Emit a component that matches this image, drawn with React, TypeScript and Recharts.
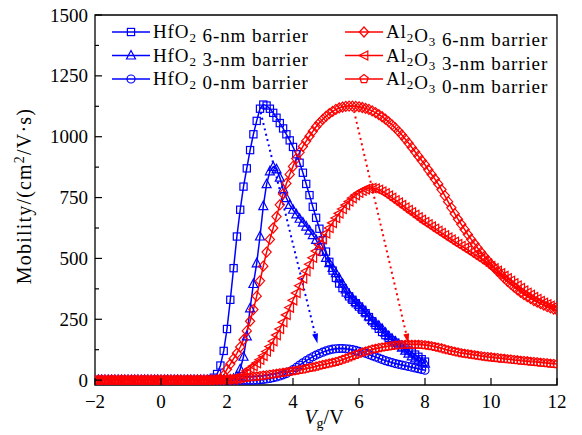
import React from "react";
import { LineChart, Line, XAxis, YAxis, ReferenceArea, ReferenceLine } from "recharts";

// gate voltage sweep, 0.1 V step
const VG = [
  -2, -1.9, -1.8, -1.7, -1.6, -1.5, -1.4, -1.3, -1.2, -1.1,
  -1, -0.9, -0.8, -0.7, -0.6, -0.5, -0.4, -0.3, -0.2, -0.1,
  0, 0.1, 0.2, 0.3, 0.4, 0.5, 0.6, 0.7, 0.8, 0.9,
  1, 1.1, 1.2, 1.3, 1.4, 1.5, 1.6, 1.7, 1.8, 1.9,
  2, 2.1, 2.2, 2.3, 2.4, 2.5, 2.6, 2.7, 2.8, 2.9,
  3, 3.1, 3.2, 3.3, 3.4, 3.5, 3.6, 3.7, 3.8, 3.9,
  4, 4.1, 4.2, 4.3, 4.4, 4.5, 4.6, 4.7, 4.8, 4.9,
  5, 5.1, 5.2, 5.3, 5.4, 5.5, 5.6, 5.7, 5.8, 5.9,
  6, 6.1, 6.2, 6.3, 6.4, 6.5, 6.6, 6.7, 6.8, 6.9,
  7, 7.1, 7.2, 7.3, 7.4, 7.5, 7.6, 7.7, 7.8, 7.9,
  8, 8.1, 8.2, 8.3, 8.4, 8.5, 8.6, 8.7, 8.8, 8.9,
  9, 9.1, 9.2, 9.3, 9.4, 9.5, 9.6, 9.7, 9.8, 9.9,
  10, 10.1, 10.2, 10.3, 10.4, 10.5, 10.6, 10.7, 10.8, 10.9,
  11, 11.1, 11.2, 11.3, 11.4, 11.5, 11.6, 11.7, 11.8, 11.9,
  12,
];

// HfO2 series run from -2 to 8 V
const HFO2_6NM = [
  0, 0, 0, 0, 0, 0, 0, 0, 0, 0,
  0, 0, 0, 0, 0, 0, 0, 0, 0, 0,
  0, 0, 0, 0, 0, 0, 0, 0, 0, 0,
  0, 0, 0, 0, 1, 4, 10, 25, 60, 120,
  210, 330, 460, 590, 700, 795, 870, 945, 1010, 1065,
  1115, 1132, 1128, 1115, 1098, 1078, 1056, 1034, 1010, 985,
  958, 928, 893, 852, 806, 760, 712, 667, 622, 575,
  528, 486, 450, 420, 397, 378, 360, 344, 330, 316,
  302, 289, 275, 259, 242, 226, 211, 198, 185, 173,
  163, 154, 146, 138, 130, 122, 114, 105, 96, 86,
  76,
];
const HFO2_3NM = [
  0, 0, 0, 0, 0, 0, 0, 0, 0, 0,
  0, 0, 0, 0, 0, 0, 0, 0, 0, 0,
  0, 0, 0, 0, 0, 0, 0, 0, 0, 0,
  0, 0, 0, 0, 0, 0, 0, 0, 0, 0,
  0, 2, 6, 15, 45, 96, 180, 295, 395, 480,
  590, 715, 805, 858, 876, 866, 832, 785, 748, 720,
  700, 681, 663, 647, 631, 614, 596, 576, 552, 527,
  502, 481, 461, 440, 418, 396, 373, 353, 336, 321,
  309, 295, 279, 262, 247, 235, 223, 211, 195, 181,
  170, 159, 146, 133, 121, 109, 98, 89, 81, 74,
  68,
];
const HFO2_0NM = [
  0, 0, 0, 0, 0, 0, 0, 0, 0, 0,
  0, 0, 0, 0, 0, 0, 0, 0, 0, 0,
  0, 0, 0, 0, 0, 0, 0, 0, 0, 0,
  0, 0, 0, 0, 0, 0, 0, 0, 0, 0,
  0, 0, 0, 0, 0, 0, 0, 0, 0, 1,
  2, 3, 5, 7, 10, 13, 17, 22, 27, 35,
  43, 52, 62, 71, 80, 88, 96, 103, 109, 115,
  120, 124, 127, 129, 130, 130, 129, 127, 125, 122,
  118, 114, 110, 105, 100, 95, 90, 85, 80, 76,
  72, 68, 65, 62, 59, 56, 53, 50, 47, 44,
  41,
];

// Al2O3 series run from -2 to 12 V
const AL2O3_6NM = [
  0, 0, 0, 0, 0, 0, 0, 0, 0, 0,
  0, 0, 0, 0, 0, 0, 0, 0, 0, 0,
  0, 0, 0, 0, 0, 0, 0, 0, 0, 0,
  0, 0, 0, 0, 0, 0, 1, 2, 6, 20,
  45, 66, 88, 110, 136, 166, 202, 242, 290, 345,
  408, 468, 526, 578, 625, 672, 720, 765, 808, 845,
  878, 910, 936, 960, 982, 1002, 1022, 1041, 1057, 1071,
  1084, 1095, 1104, 1112, 1118, 1122, 1125, 1126, 1126, 1125,
  1123, 1120, 1116, 1112, 1106, 1099, 1091, 1082, 1072, 1061,
  1049, 1036, 1022, 1007, 991, 974, 956, 938, 920, 902,
  885, 864, 845, 826, 806, 783, 758, 733, 708, 684,
  661, 640, 619, 598, 578, 560, 542, 525, 508, 492,
  476, 461, 447, 433, 419, 406, 394, 382, 371, 361,
  351, 343, 335, 327, 320, 314, 308, 302, 297, 292,
  288,
];
const AL2O3_3NM = [
  0, 0, 0, 0, 0, 0, 0, 0, 0, 0,
  0, 0, 0, 0, 0, 0, 0, 0, 0, 0,
  0, 0, 0, 0, 0, 0, 0, 0, 0, 0,
  0, 0, 0, 0, 0, 0, 0, 0, 0, 0,
  1, 2, 3, 5, 10, 25, 38, 48, 58, 70,
  84, 100, 118, 138, 160, 185, 210, 238, 268, 298,
  328, 358, 388, 418, 448, 476, 503, 530, 556, 580,
  603, 625, 646, 666, 685, 703, 719, 734, 748, 760,
  770, 778, 784, 788, 789, 787, 782, 775, 767, 758,
  749, 739, 729, 719, 709, 699, 689, 679, 669, 659,
  649, 640, 631, 622, 613, 604, 595, 586, 577, 568,
  559, 551, 543, 534, 525, 516, 507, 498, 489, 479,
  469, 459, 449, 439, 428, 418, 408, 398, 388, 378,
  368, 359, 350, 341, 333, 325, 318, 311, 305, 300,
  296,
];
const AL2O3_0NM = [
  0, 0, 0, 0, 0, 0, 0, 0, 0, 0,
  0, 0, 0, 0, 0, 0, 0, 0, 0, 0,
  0, 0, 0, 0, 0, 0, 0, 0, 0, 0,
  0, 0, 0, 0, 0, 0, 1, 1, 2, 2,
  3, 4, 5, 6, 7, 8, 10, 12, 14, 15,
  17, 19, 21, 23, 25, 27, 29, 31, 33, 35,
  37, 39, 42, 44, 47, 50, 53, 56, 60, 63,
  66, 69, 72, 75, 79, 84, 89, 94, 99, 104,
  109, 114, 118, 122, 126, 129, 132, 135, 137, 139,
  141, 143, 144, 145, 146, 146, 146, 146, 146, 145,
  144, 142, 140, 137, 134, 131, 127, 123, 120, 117,
  114, 111, 109, 107, 105, 103, 101, 99, 97, 95,
  94, 92, 91, 89, 88, 86, 85, 83, 82, 80,
  79, 78, 76, 75, 74, 72, 71, 70, 68, 67,
  66,
];

const X_TICKS = [-2, 0, 2, 4, 6, 8, 10, 12];
const Y_TICKS = [0, 125, 250, 375, 500, 625, 750, 875, 1000, 1125, 1250, 1375, 1500];

// dotted guide arrows (tail -> head)
const BLUE_ARROW = [{ x: 3.02, y: 1100 }, { x: 4.74, y: 150 }];
const RED_ARROW = [{ x: 5.85, y: 1105 }, { x: 7.5, y: 150 }];

const BLUE = "#0000ff";
const RED = "#ff0000";
const FONT = '"Liberation Serif", "Times New Roman", serif';

type Shape = "square" | "triangle" | "circle" | "diamond" | "triangleLeft" | "pentagon";

function Marker({ shape, cx, cy, color }: { shape: Shape; cx: number; cy: number; color: string }) {
  const p = { fill: "none", stroke: color, strokeWidth: 1.2 };
  switch (shape) {
    case "square":
      return <rect x={cx - 3.6} y={cy - 3.6} width={7.2} height={7.2} {...p} />;
    case "triangle":
      return <path d={`M${cx},${cy - 5} L${cx + 4.5},${cy + 3.5} L${cx - 4.5},${cy + 3.5}Z`} {...p} />;
    case "circle":
      return <circle cx={cx} cy={cy} r={4} {...p} />;
    case "diamond":
      return <path d={`M${cx},${cy - 5} L${cx + 4.6},${cy} L${cx},${cy + 5} L${cx - 4.6},${cy}Z`} {...p} />;
    case "triangleLeft":
      return <path d={`M${cx - 5},${cy} L${cx + 3.8},${cy - 4.6} L${cx + 3.8},${cy + 4.6}Z`} {...p} />;
    default: {
      const pts = [0, 1, 2, 3, 4]
        .map((k) => {
          const a = -Math.PI / 2 + (k * 2 * Math.PI) / 5;
          return `${cx + 4.4 * Math.cos(a)},${cy + 4.4 * Math.sin(a)}`;
        })
        .join(" ");
      return <polygon points={pts} {...p} />;
    }
  }
}

const SERIES: { key: string; values: number[]; color: string; shape: Shape }[] = [
  { key: "hfo2-6", values: HFO2_6NM, color: BLUE, shape: "square" },
  { key: "hfo2-3", values: HFO2_3NM, color: BLUE, shape: "triangle" },
  { key: "hfo2-0", values: HFO2_0NM, color: BLUE, shape: "circle" },
  { key: "al2o3-6", values: AL2O3_6NM, color: RED, shape: "diamond" },
  { key: "al2o3-3", values: AL2O3_3NM, color: RED, shape: "triangleLeft" },
  { key: "al2o3-0", values: AL2O3_0NM, color: RED, shape: "pentagon" },
];

const XTick = (props: any) => {
  const { x, y, payload } = props;
  const label = String(payload.value).replace("-", "\u2212");
  return (
    <g>
      <line x1={x} y1={y} x2={x} y2={y - 7} stroke="#000" strokeWidth={1.2} />
      <text x={x} y={y + 23} textAnchor="middle" fontFamily={FONT} fontSize={19} fill="#000">
        {label}
      </text>
    </g>
  );
};

const YTick = (props: any) => {
  const { x, y, payload } = props;
  const major = payload.value % 250 === 0;
  return (
    <g>
      <line x1={x} y1={y} x2={x + (major ? 7 : 4)} y2={y} stroke="#000" strokeWidth={1.2} />
      {major && (
        <text x={x - 7} y={y + 6.5} textAnchor="end" fontFamily={FONT} fontSize={19} fill="#000">
          {payload.value}
        </text>
      )}
    </g>
  );
};

const arrowShape = (color: string) => (props: any) => {
  const { x1, y1, x2, y2 } = props;
  const ang = Math.atan2(y2 - y1, x2 - x1);
  const len = 10;
  const half = 3;
  const bx = x2 - len * Math.cos(ang);
  const by = y2 - len * Math.sin(ang);
  const px = -Math.sin(ang) * half;
  const py = Math.cos(ang) * half;
  return (
    <g>
      <line x1={x1} y1={y1} x2={bx} y2={by} stroke={color} strokeWidth={2} strokeDasharray="2 3.5" />
      <path d={`M${x2},${y2} L${bx + px},${by + py} L${bx - px},${by - py}Z`} fill={color} />
    </g>
  );
};

function LegendRow({ x, y, color, shape, children }: any) {
  return (
    <g>
      <line x1={x} y1={y} x2={x + 38} y2={y} stroke={color} strokeWidth={1.5} />
      <Marker shape={shape} cx={x + 19} cy={y} color={color} />
      <text x={x + 41} y={y + 6} fontFamily={FONT} fontSize={19} letterSpacing={0.9} fill="#000">
        {children}
      </text>
    </g>
  );
}

const sub = (s: string) => (
  <>
    <tspan dy={4} fontSize={13}>{s}</tspan>
    <tspan dy={-4}></tspan>
  </>
);

export default function App() {
  return (
    <div style={{ position: "absolute", left: 0, top: 0, width: 582, height: 435, background: "#fff" }}>
      <LineChart width={582} height={435} margin={{ top: 15, right: 25, bottom: 0, left: 0 }}>
        <XAxis
          type="number"
          dataKey="x"
          domain={[-2, 12]}
          ticks={X_TICKS}
          interval={0}
          allowDataOverflow
          axisLine={false}
          tickLine={false}
          tickSize={0}
          tickMargin={0}
          height={50}
          tick={<XTick />}
        />
        <YAxis
          type="number"
          domain={[-20, 1500]}
          ticks={Y_TICKS}
          interval={0}
          allowDataOverflow
          axisLine={false}
          tickLine={false}
          tickSize={0}
          tickMargin={0}
          width={95}
          tick={<YTick />}
        />
        {SERIES.map((s) => (
          <Line
            key={s.key}
            data={s.values.map((v, i) => ({ x: VG[i], y: v }))}
            dataKey="y"
            stroke={s.color}
            strokeWidth={1.5}
            isAnimationActive={false}
            activeDot={false}
            dot={(p: any) => <Marker key={p.index} shape={s.shape} cx={p.cx} cy={p.cy} color={s.color} />}
          />
        ))}
        <ReferenceLine segment={BLUE_ARROW} ifOverflow="visible" shape={arrowShape(BLUE)} />
        <ReferenceLine segment={RED_ARROW} ifOverflow="visible" shape={arrowShape(RED)} />
        <ReferenceArea x1={-2} x2={12} y1={-20} y2={1500} fill="none" stroke="#000" strokeWidth={1.3} ifOverflow="visible" />
      </LineChart>

      <svg width={582} height={435} style={{ position: "absolute", left: 0, top: 0, pointerEvents: "none" }}>
        {/* legend */}
        <LegendRow x={112} y={32} color={BLUE} shape="square">HfO{sub("2")} 6-nm barrier</LegendRow>
        <LegendRow x={112} y={55.5} color={BLUE} shape="triangle">HfO{sub("2")} 3-nm barrier</LegendRow>
        <LegendRow x={112} y={79} color={BLUE} shape="circle">HfO{sub("2")} 0-nm barrier</LegendRow>
        <LegendRow x={345} y={32} color={RED} shape="diamond">Al{sub("2")}O{sub("3")} 6-nm barrier</LegendRow>
        <LegendRow x={345} y={55.5} color={RED} shape="triangleLeft">Al{sub("2")}O{sub("3")} 3-nm barrier</LegendRow>
        <LegendRow x={345} y={79} color={RED} shape="pentagon">Al{sub("2")}O{sub("3")} 0-nm barrier</LegendRow>

        {/* axis titles */}
        <text
          transform="translate(31,196) rotate(-90)"
          textAnchor="middle"
          fontFamily={FONT}
          fontSize={20}
          letterSpacing={1.2}
          fill="#000"
        >
          Mobility/(cm<tspan dy={-7} fontSize={14}>2</tspan><tspan dy={7}>/V·s)</tspan>
        </text>
        <text x={324} y={424} textAnchor="middle" fontFamily={FONT} fontSize={20} fill="#000">
          <tspan fontStyle="italic">V</tspan>
          <tspan dy={4} fontSize={14}>g</tspan>
          <tspan dy={-4}>/V</tspan>
        </text>
      </svg>
    </div>
  );
}
